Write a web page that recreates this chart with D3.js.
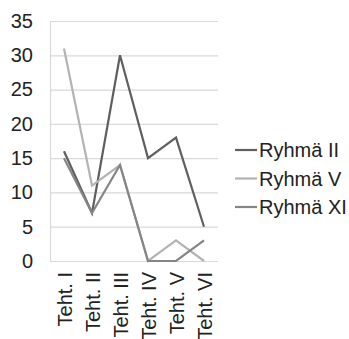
<!DOCTYPE html>
<html>
<head>
<meta charset="utf-8">
<script src="https://cdn.jsdelivr.net/npm/d3@7"></script>
<style>
  html, body { margin: 0; padding: 0; background: #fff; }
  svg { display: block; }
  text { font-family: "Liberation Sans", Arial, sans-serif; fill: #222; }
</style>
</head>
<body>
<svg id="chart" width="349" height="339"></svg>
<script>
// Tasks (categories) and group results
const categories = ["Teht. I", "Teht. II", "Teht. III", "Teht. IV", "Teht. V", "Teht. VI"];
const seriesNames = ["Ryhmä II", "Ryhmä V", "Ryhmä XI"];
const ryhmaII = [16, 7, 30, 15, 18, 5];
const ryhmaV = [31, 11, 14, 0, 3, 0];
const ryhmaXI = [15, 7, 14, 0, 0, 3];
const yTicks = [0, 5, 10, 15, 20, 25, 30, 35];
const colors = ["#5f5f5f", "#b3b3b3", "#858585"];

const series = [ryhmaII, ryhmaV, ryhmaXI].map((values, i) => ({
  name: seriesNames[i], values, color: colors[i]
}));

const svg = d3.select("#chart");
const plotLeft = 50, plotRight = 218, plotTop = 21, plotBottom = 261;
const fontSize = "20px";

const x = d3.scaleBand().domain(categories).range([plotLeft, plotRight]);
const y = d3.scaleLinear().domain([0, 35]).range([plotBottom, plotTop]);

// Horizontal gridlines
svg.append("g")
  .selectAll("line")
  .data(yTicks)
  .join("line")
  .attr("x1", plotLeft).attr("x2", plotRight)
  .attr("y1", d => y(d) + 0.5).attr("y2", d => y(d) + 0.5)
  .attr("stroke", "#d9d9d9").attr("stroke-width", 1.2);

// Left axis line
svg.append("line")
  .attr("x1", plotLeft + 0.5).attr("x2", plotLeft + 0.5)
  .attr("y1", plotTop).attr("y2", plotBottom + 0.5)
  .attr("stroke", "#d9d9d9").attr("stroke-width", 1.2);

// Y axis labels
const yAxis = d3.axisLeft(y).tickValues(yTicks).tickSize(0).tickPadding(17);
const gy = svg.append("g").attr("transform", `translate(${plotLeft},0)`).call(yAxis);
gy.select(".domain").remove();
gy.selectAll("text")
  .style("font-family", '"Liberation Sans", Arial, sans-serif')
  .style("font-size", fontSize)
  .attr("fill", "#222");

// X axis labels, rotated
const xAxis = d3.axisBottom(x).tickSize(0).tickPadding(0);
const gx = svg.append("g").attr("transform", `translate(0,${plotBottom})`).call(xAxis);
gx.select(".domain").remove();
gx.selectAll("text")
  .style("font-family", '"Liberation Sans", Arial, sans-serif')
  .style("font-size", fontSize)
  .attr("fill", "#222")
  .attr("text-anchor", "end")
  .attr("dy", "0.35em")
  .attr("transform", "translate(1,11) rotate(-90)")
  .attr("x", 0).attr("y", 0);

// Series lines
const line = d3.line()
  .x((d, i) => x(categories[i]) + x.bandwidth() / 2)
  .y(d => y(d));

svg.append("g")
  .selectAll("path")
  .data(series)
  .join("path")
  .attr("d", d => line(d.values))
  .attr("fill", "none")
  .attr("stroke", d => d.color)
  .attr("stroke-width", 2.2)
  .attr("stroke-linejoin", "miter");

// Legend
const legend = svg.append("g")
  .selectAll("g")
  .data(series)
  .join("g")
  .attr("transform", (d, i) => `translate(235,${150 + i * 28.5})`);
legend.append("line")
  .attr("x1", 0).attr("x2", 22).attr("y1", 0).attr("y2", 0)
  .attr("stroke", d => d.color).attr("stroke-width", 2.2);
legend.append("text")
  .attr("x", 24).attr("y", 0).attr("dy", "0.35em")
  .style("font-size", fontSize)
  .text(d => d.name);
</script>
</body>
</html>
